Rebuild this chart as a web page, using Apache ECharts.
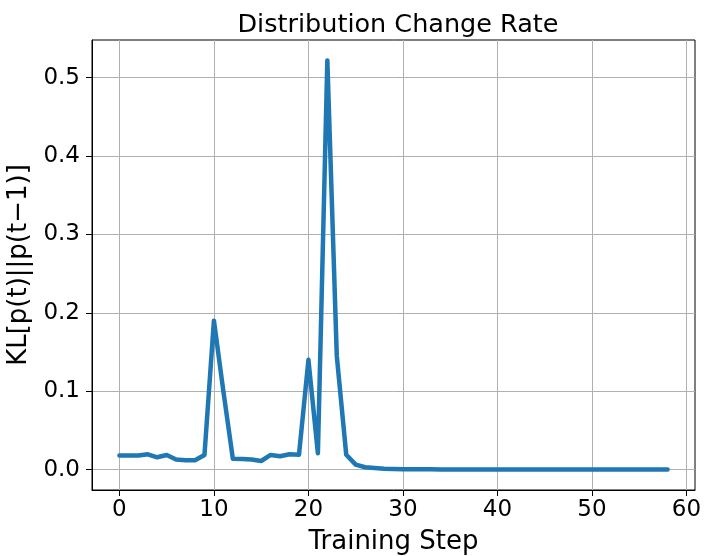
<!DOCTYPE html>
<html lang="en">
<head>
    <meta charset="UTF-8">
    <title>Distribution Change Rate</title>
    <script src="https://cdn.jsdelivr.net/npm/echarts@6/dist/echarts.min.js"></script>
    <style>
        * { margin: 0; padding: 0; box-sizing: border-box; }
        body { background: #ffffff; }
        #chart { width: 705px; height: 556px; }
    </style>
</head>
<body>
    <div id="chart"></div>
    <script>
        // KL divergence between consecutive distributions, one value per step
        const steps = [];
        for (let i = 0; i <= 58; i++) steps.push(i);
        const klValues = [
            0.018, 0.018, 0.018, 0.0195, 0.0157, 0.0187, 0.0128, 0.012, 0.012, 0.0187,
            0.190, 0.100, 0.014, 0.0136, 0.0128, 0.011, 0.0187, 0.017, 0.0196, 0.019,
            0.140, 0.021, 0.522, 0.145, 0.019, 0.0064, 0.003, 0.002, 0.001, 0.0008,
            0.0006, 0.0005, 0.0004, 0.0004, 0.0003, 0.0003, 0.0003, 0.0002, 0.0002, 0.0002,
            0.0002, 0.0002, 0.0001, 0.0001, 0.0001, 0.0001, 0.0001, 0.0001, 0.0001, 0.0001,
            0.0001, 0.0001, 0.0001, 0.0001, 0.0001, 0.0001, 0.0001, 0.0001, 0.0001
        ];
        const xTicks = [0, 10, 20, 30, 40, 50, 60];
        const yTicks = [0, 0.1, 0.2, 0.3, 0.4, 0.5];

        const font = 'DejaVu Sans';
        const chart = echarts.init(document.getElementById('chart'));

        chart.setOption({
            animation: false,
            title: {
                text: 'Distribution Change Rate',
                left: 393,
                top: 7,
                textAlign: 'center',
                textStyle: { fontFamily: font, fontSize: 25.5, fontWeight: 'normal', color: '#000' }
            },
            grid: {
                left: 92, right: 10, top: 40, bottom: 66,
                outerBoundsMode: 'none',
                show: true, borderColor: '#000', borderWidth: 1, backgroundColor: '#fff'
            },
            xAxis: {
                type: 'value',
                min: -2.9, max: 60.9,
                name: 'Training Step',
                nameLocation: 'middle',
                nameGap: 39,
                nameTextStyle: { fontFamily: font, fontSize: 26, color: '#000' },
                axisLine: { show: true, onZero: false, lineStyle: { color: '#000', width: 1 } },
                axisTick: { show: true, length: 6, lineStyle: { color: '#000' }, customValues: xTicks },
                axisLabel: {
                    fontFamily: font, fontSize: 23, color: '#000', margin: 9,
                    customValues: xTicks,
                    formatter: v => String(v)
                },
                splitLine: { show: true, lineStyle: { color: '#b0b0b0', width: 1 } }
            },
            yAxis: {
                type: 'value',
                min: -0.026, max: 0.548,
                name: 'KL[p(t)||p(t\u22121)]',
                nameLocation: 'middle',
                nameGap: 54,
                nameTextStyle: { fontFamily: font, fontSize: 26, color: '#000' },
                axisLine: { show: true, onZero: false, lineStyle: { color: '#000', width: 1 } },
                axisTick: { show: true, length: 6, lineStyle: { color: '#000' }, customValues: yTicks },
                axisLabel: {
                    fontFamily: font, fontSize: 23, color: '#000', margin: 12,
                    customValues: yTicks,
                    formatter: v => v.toFixed(1)
                },
                splitLine: { show: true, lineStyle: { color: '#b0b0b0', width: 1 } }
            },
            series: [{
                type: 'line',
                data: steps.map((s, i) => [s, klValues[i]]),
                showSymbol: false,
                lineStyle: { color: '#1f77b4', width: 4.5, join: 'round', cap: 'round' },
                itemStyle: { color: '#1f77b4' }
            }]
        });
    </script>
</body>
</html>
